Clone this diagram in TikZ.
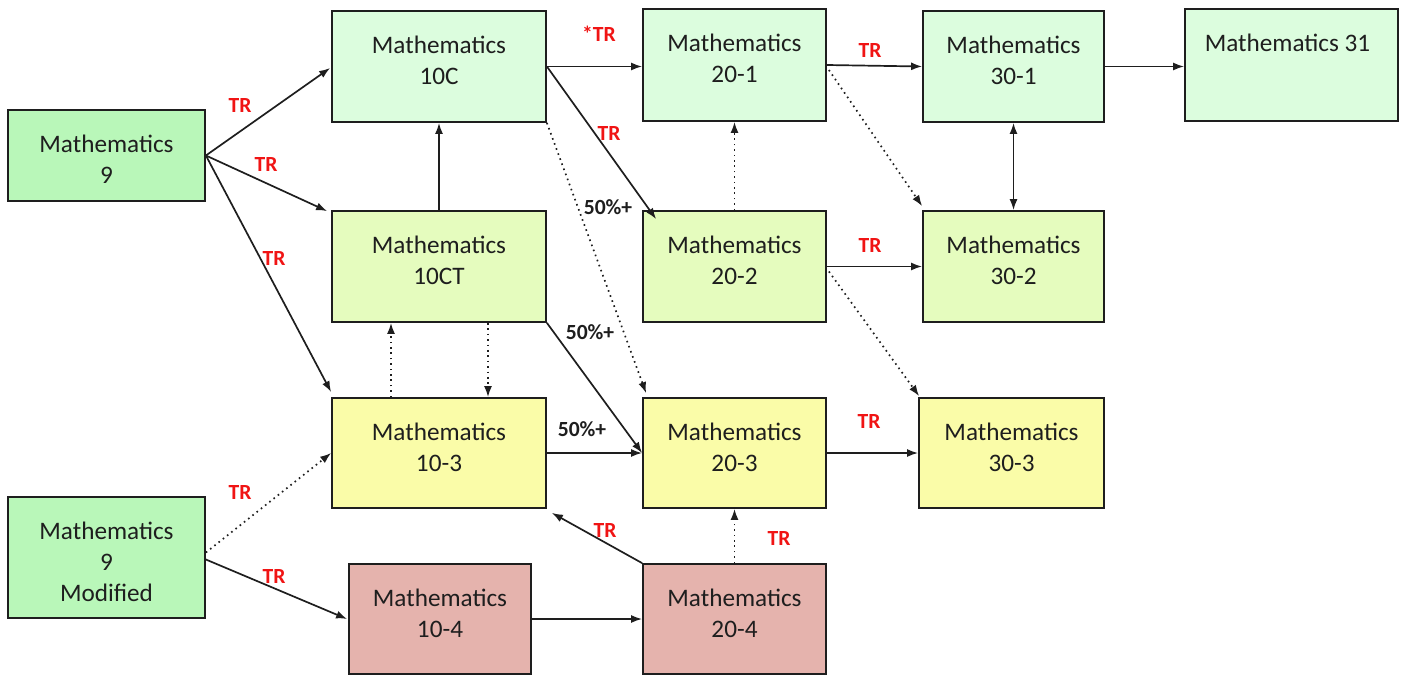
\documentclass[tikz,border=0pt]{standalone}
\usepackage{fontspec}
\setmainfont{Carlito}
\usetikzlibrary{arrows.meta,calc}
\definecolor{gA}{RGB}{185,247,185}
\definecolor{gB}{RGB}{220,253,222}
\definecolor{gC}{RGB}{229,252,190}
\definecolor{yA}{RGB}{250,252,168}
\definecolor{rA}{RGB}{229,179,173}
\definecolor{txt}{RGB}{30,30,30}
\definecolor{trred}{RGB}{240,20,20}
\tikzset{
  box/.style n args={3}{draw=txt, line width=0.9pt, fill=#1, inner sep=0pt,
    minimum width=#2*0.5pt, minimum height=#3*0.5pt},
  boxtext/.style={anchor=north, align=center, inner sep=0pt, text=txt,
    font=\fontsize{12.6}{15.5}\selectfont},
  conn/.style={draw=txt, line width=0.85pt, -{Latex[length=5.5pt,width=4pt]}},
  dotconn/.style={conn, dash pattern=on 0.8pt off 1.9pt},
  trlab/.style={text=trred, font=\bfseries\fontsize{10.8}{12}\selectfont, inner sep=0pt},
  pctlab/.style={text=txt, font=\bfseries\fontsize{10.8}{12}\selectfont, inner sep=0pt},
}
\begin{document}
\begin{tikzpicture}[x=0.5pt,y=-0.5pt]
\useasboundingbox (0,0) rectangle (1406,675);
% boxes
\node[box={gA}{197}{91}]  (m9)   at (106.5,155.5) {};
\node[box={gA}{197}{121}] (m9m)  at (106.5,557.5) {};
\node[box={gB}{214}{111}] (c10)  at (439,66.5) {};
\node[box={gC}{214}{111}] (ct10) at (439,266.5) {};
\node[box={yA}{214}{110}] (t103) at (439,453) {};
\node[box={rA}{182}{110}] (f104) at (440,619) {};
\node[box={gB}{183}{112}] (a201) at (734.5,65) {};
\node[box={gC}{183}{111}] (a202) at (734.5,266.5) {};
\node[box={yA}{183}{110}] (a203) at (734.5,453) {};
\node[box={rA}{183}{110}] (a204) at (734.5,619) {};
\node[box={gB}{181}{111}] (b301) at (1013.5,66.5) {};
\node[box={gC}{181}{111}] (b302) at (1013.5,266.5) {};
\node[box={yA}{185}{110}] (b303) at (1011.5,453) {};
\node[box={gB}{213}{112}] (m31)  at (1291.5,65) {};
% box texts
\node[boxtext] (m9t)   at ($(m9.north)+(0,25)$)   {Mathematics\\9};
\node[boxtext] (m9mt)  at ($(m9m.north)+(0,25)$)  {Mathematics\\9\\Modified};
\node[boxtext] (c10t)  at ($(c10.north)+(0,25)$)  {Mathematics\\10C};
\node[boxtext] (ct10t) at ($(ct10.north)+(0,25)$) {Mathematics\\10CT};
\node[boxtext] (t103t) at ($(t103.north)+(0,25)$) {Mathematics\\10-3};
\node[boxtext] (f104t) at ($(f104.north)+(0,25)$) {Mathematics\\10-4};
\node[boxtext] (a201t) at ($(a201.north)+(0,25)$) {Mathematics\\20-1};
\node[boxtext] (a202t) at ($(a202.north)+(0,25)$) {Mathematics\\20-2};
\node[boxtext] (a203t) at ($(a203.north)+(0,25)$) {Mathematics\\20-3};
\node[boxtext] (a204t) at ($(a204.north)+(0,25)$) {Mathematics\\20-4};
\node[boxtext] (b301t) at ($(b301.north)+(0,25)$) {Mathematics\\30-1};
\node[boxtext] (b302t) at ($(b302.north)+(0,25)$) {Mathematics\\30-2};
\node[boxtext] (b303t) at ($(b303.north)+(0,25)$) {Mathematics\\30-3};
\node[boxtext] (m31t)  at ($(m31.north)+(-4,25)$) {Mathematics 31};
% connectors
\draw[conn] (m9.east) -- ($(c10.west)+(-1,1.5)$);
\draw[conn] (m9.east) -- ($(ct10.north west)+(-4,1)$);
\draw[conn] (m9.east) -- ($(t103.north west)+(0,-5)$);
\draw[conn] (ct10.north) -- (c10.south);
\draw[conn] (c10.east) -- (c10.east -| a201.west);
\draw[conn] (c10.east) -- ($(a202.north west)+(14,9)$);
\draw[dotconn] (c10.south east) -- ($(a203.north west)+(4,-4)$);
\draw[conn] (ct10.south east) -- (a203.west);
\draw[conn] (t103.east) -- (a203.west);
\draw[dotconn] ($(t103.north)+(-48,0)$) -- ($(ct10.south)+(-48,0)$);
\draw[dotconn] ($(ct10.south)+(49,0)$) -- ($(t103.north)+(49,0)$);
\draw[dotconn] (a202.north) -- (a201.south);
\draw[conn] (a201.east) -- (b301.west);
\draw[dotconn] ($(a201.east)+(2,5)$) -- ($(b302.north west)+(0,-4)$);
\draw[conn, {Latex[length=5.5pt,width=4pt]}-{Latex[length=5.5pt,width=4pt]}] (b301.south) -- (b302.north);
\draw[conn] (b301.east) -- (b301.east -| m31.west);
\draw[conn] (a202.east) -- (b302.west);
\draw[dotconn] ($(a202.east)+(2,5)$) -- ($(b303.north west)+(1,-1)$);
\draw[conn] (a203.east) -- (b303.west);
\draw[conn] (a204.north west) -- ($(t103.south east)+(5,4)$);
\draw[dotconn] (a204.north) -- (a203.south);
\draw[conn] (f104.east) -- (a204.west);
\draw[dotconn] ($(m9m.east)+(0,-5)$) -- (t103.west);
\draw[conn] ($(m9m.east)+(0,2)$) -- ($(f104.west)+(-1,0)$);
% labels
\node[trlab] (l1) at (240,105) {TR};
\node[trlab] (l2) at (266,164) {TR};
\node[trlab] (l3) at (274,258) {TR};
\node[trlab] (l4) at (599,34) {*TR};
\node[trlab] (l5) at (609,133) {TR};
\node[pctlab] (p1) at (608,207) {50\%+};
\node[pctlab] (p2) at (590,332) {50\%+};
\node[pctlab] (p3) at (582,429) {50\%+};
\node[trlab] (l6) at (870,50) {TR};
\node[trlab] (l7) at (870,245) {TR};
\node[trlab] (l8) at (869,421) {TR};
\node[trlab] (l9) at (605,530) {TR};
\node[trlab] (l10) at (779,538) {TR};
\node[trlab] (l11) at (240,492) {TR};
\node[trlab] (l12) at (274,576) {TR};
\end{tikzpicture}
\end{document}
